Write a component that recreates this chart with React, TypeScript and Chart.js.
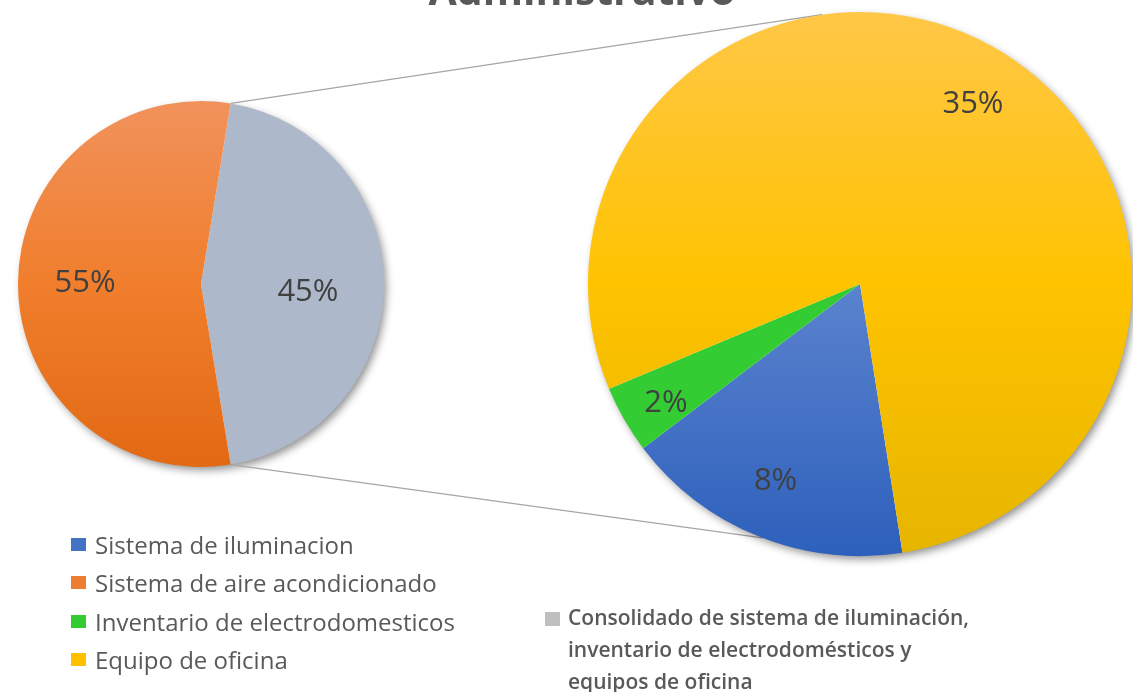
import React, { useEffect, useRef } from 'react';
import { Chart, registerables } from 'chart.js';
Chart.register(...registerables);

const titleText = 'Administrativo';
const categories = [
  'Sistema de iluminacion',
  'Sistema de aire acondicionado',
  'Inventario de electrodomesticos',
  'Equipo de oficina',
];
const categoryColors = ['#4472C4', '#ED7D31', '#33CC33', '#FFC000'];
const consolidatedLabel =
  'Consolidado de sistema de iluminación, inventario de electrodomésticos y equipos de oficina';
const consolidatedColor = '#BFBFBF';

// primary pie (% of total): [consolidado, aire acondicionado]
const primaryLabels = [consolidatedLabel, categories[1]];
const primaryValues = [44.8, 55.2];
// secondary pie (% of total): [iluminacion, electrodomesticos, equipo de oficina]
const secondaryLabels = [categories[0], categories[2], categories[3]];
const secondaryValues = [7.7, 1.8, 35.3];

const W = 1133;
const H = 692;
const FONT = '"Open Sans", Lato, sans-serif';

type Stop = [number, string];
type Fill = string | Stop[];
function fills(list: Fill[]) {
  return (c: any) => {
    const f = list[c.dataIndex];
    if (typeof f === 'string') return f;
    const chart = c.chart;
    const a = chart.chartArea;
    if (!a) return f[Math.floor(f.length / 2)][1];
    const g = chart.ctx.createLinearGradient(0, a.top, 0, a.bottom);
    f.forEach(([o, col]) => g.addColorStop(o, col));
    return g;
  };
}

const shadowPlugin = {
  id: 'pieShadow',
  beforeDatasetsDraw(chart: any) {
    const arc = chart.getDatasetMeta(0).data[0];
    if (!arc) return;
    const { x, y, outerRadius } = arc.getProps(['x', 'y', 'outerRadius'], true);
    const ctx = chart.ctx;
    ctx.save();
    ctx.shadowColor = 'rgba(0,0,0,0.45)';
    ctx.shadowBlur = 9;
    ctx.shadowOffsetX = 3;
    ctx.shadowOffsetY = 4;
    ctx.beginPath();
    ctx.arc(x, y, outerRadius - 1, 0, Math.PI * 2);
    ctx.fillStyle = '#ffffff';
    ctx.fill();
    ctx.restore();
  },
};

const labelPlugin = {
  id: 'pctLabels',
  afterDatasetsDraw(chart: any, _args: any, opts: any) {
    const meta = chart.getDatasetMeta(0);
    const vals = chart.data.datasets[0].data as number[];
    const ctx = chart.ctx;
    ctx.save();
    ctx.font = `${opts.size || 30}px ${FONT}`;
    ctx.fillStyle = '#404040';
    ctx.textAlign = 'center';
    ctx.textBaseline = 'middle';
    meta.data.forEach((arc: any, i: number) => {
      const p = arc.getProps(['x', 'y', 'startAngle', 'endAngle', 'outerRadius'], true);
      const shift = ((opts.shifts && opts.shifts[i]) || 0) * (Math.PI / 180);
      const mid = (p.startAngle + p.endAngle) / 2 + shift;
      const f = (opts.fracs && opts.fracs[i]) || 0.6;
      const tx = p.x + Math.cos(mid) * p.outerRadius * f;
      const ty = p.y + Math.sin(mid) * p.outerRadius * f;
      ctx.fillText(`${Math.round(vals[i])}%`, tx, ty);
    });
    ctx.restore();
  },
};

const connectorPlugin = {
  id: 'connectors',
  beforeDatasetsDraw(chart: any, _args: any, opts: any) {
    const src = opts.getSource && opts.getSource();
    if (!src) return;
    const sArc = src.getDatasetMeta(0).data[0];
    const tArc = chart.getDatasetMeta(0).data[0];
    if (!sArc || !tArc) return;
    const s = sArc.getProps(['x', 'y', 'startAngle', 'endAngle', 'outerRadius'], true);
    const t = tArc.getProps(['x', 'y', 'outerRadius'], true);
    const deg = Math.PI / 180;
    const topA = (opts.topAngle - 90) * deg;
    const botA = (opts.bottomAngle - 90) * deg;
    const ctx = chart.ctx;
    ctx.save();
    ctx.strokeStyle = '#A6A6A6';
    ctx.lineWidth = 1.2;
    ctx.beginPath();
    ctx.moveTo(s.x + Math.cos(s.startAngle) * s.outerRadius, s.y + Math.sin(s.startAngle) * s.outerRadius);
    ctx.lineTo(t.x + Math.cos(topA) * t.outerRadius, t.y + Math.sin(topA) * t.outerRadius);
    ctx.moveTo(s.x + Math.cos(s.endAngle) * s.outerRadius, s.y + Math.sin(s.endAngle) * s.outerRadius);
    ctx.lineTo(t.x + Math.cos(botA) * t.outerRadius, t.y + Math.sin(botA) * t.outerRadius);
    ctx.stroke();
    ctx.restore();
  },
};

export default function App() {
  const leftRef = useRef<HTMLCanvasElement>(null);
  const rightRef = useRef<HTMLCanvasElement>(null);

  useEffect(() => {
    const total = primaryValues.reduce((a, b) => a + b, 0);
    const leftChart = new Chart(leftRef.current!, {
      type: 'pie',
      data: {
        labels: primaryLabels,
        datasets: [
          {
            data: primaryValues,
            backgroundColor: fills([
              '#ADB9CA',
              [
                [0, '#F1925C'],
                [0.5, '#F07E2C'],
                [1, '#E36914'],
              ],
            ]) as any,
            borderWidth: 0,
            hoverOffset: 0,
          },
        ],
      },
      options: {
        responsive: false,
        animation: false,
        rotation: 90 - (primaryValues[0] / total) * 180,
        layout: { padding: { left: 18, top: 101, right: W - 384, bottom: H - 467 } },
        plugins: {
          legend: { display: false },
          tooltip: { enabled: false },
          title: { display: false },
          pctLabels: { size: 31, fracs: [0.586, 0.634], shifts: [4.3, 0.5] },
        } as any,
      },
      plugins: [shadowPlugin, labelPlugin],
    });

    const rightChart = new Chart(rightRef.current!, {
      type: 'pie',
      data: {
        labels: secondaryLabels,
        datasets: [
          {
            data: secondaryValues,
            backgroundColor: fills([
              [
                [0, '#86A6E2'],
                [0.5, '#5B83CE'],
                [1, '#2D60BC'],
              ],
              '#33CC33',
              [
                [0, '#FFC747'],
                [0.5, '#FFC300'],
                [1, '#E6B500'],
              ],
            ]) as any,
            borderWidth: 0,
            hoverOffset: 0,
          },
        ],
      },
      options: {
        responsive: false,
        animation: false,
        rotation: 171,
        layout: { padding: { left: 588, top: 12, right: 1, bottom: H - 556 } },
        plugins: {
          legend: { display: false },
          tooltip: { enabled: false },
          title: { display: false },
          pctLabels: { size: 31, fracs: [0.79, 0.837, 0.78], shifts: [1.2, -1.6, 3] },
          connectors: { getSource: () => leftChart, topAngle: 352, bottomAngle: 201 },
        } as any,
      },
      plugins: [connectorPlugin, shadowPlugin, labelPlugin],
    });

    return () => {
      rightChart.destroy();
      leftChart.destroy();
    };
  }, []);

  return (
    <div
      style={{
        position: 'fixed',
        left: 0,
        top: 0,
        width: W,
        height: H,
        background: '#ffffff',
        overflow: 'hidden',
        fontFamily: FONT,
      }}
    >
      <canvas ref={leftRef} width={W} height={H} style={{ position: 'absolute', left: 0, top: 0 }} />
      <canvas ref={rightRef} width={W} height={H} style={{ position: 'absolute', left: 0, top: 0 }} />
      <div
        style={{
          position: 'absolute',
          left: 0,
          width: 1164,
          top: -31,
          textAlign: 'center',
          fontSize: 41,
          lineHeight: '41px',
          fontWeight: 700,
          color: '#595959',
          whiteSpace: 'nowrap',
        }}
      >
        {titleText}
      </div>
      {categories.map((c, i) => (
        <div
          key={c}
          style={{
            position: 'absolute',
            left: 71,
            top: 544 + i * 38.5 - 17,
            height: 34,
            display: 'flex',
            alignItems: 'center',
            fontSize: 24,
            color: '#595959',
            whiteSpace: 'nowrap',
          }}
        >
          <span
            style={{
              display: 'inline-block',
              width: 15,
              height: 13,
              background: categoryColors[i],
              marginRight: 9,
            }}
          />
          {c}
        </div>
      ))}
      <div style={{ position: 'absolute', left: 545, top: 612, width: 15, height: 14, background: consolidatedColor }} />
      <div
        style={{
          position: 'absolute',
          left: 568,
          top: 601,
          width: 410,
          fontSize: 21,
          lineHeight: '32px',
          fontWeight: 600,
          color: '#595959',
        }}
      >
        {consolidatedLabel}
      </div>
    </div>
  );
}
